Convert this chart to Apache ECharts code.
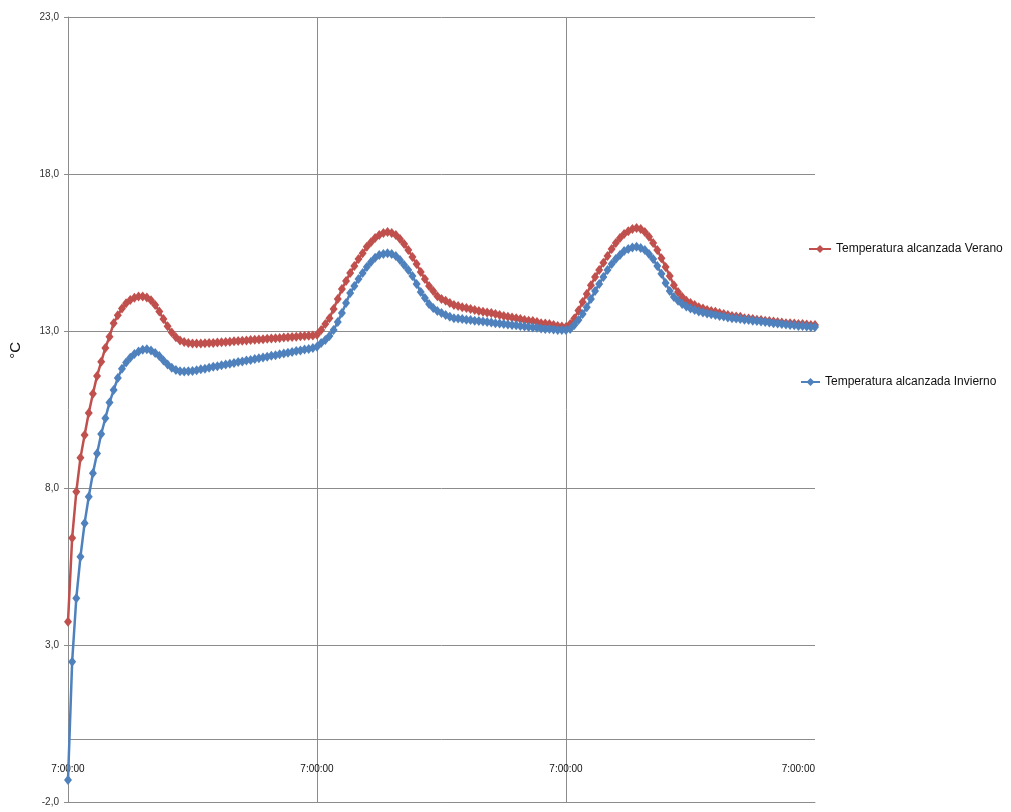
<!DOCTYPE html>
<html>
<head>
<meta charset="utf-8">
<script src="https://cdn.jsdelivr.net/npm/echarts@6/dist/echarts.min.js"></script>
<style>
html,body{margin:0;padding:0;background:#fff;}
#chart{width:1011px;height:812px;}
</style>
</head>
<body>
<div id="chart"></div>
<script>
// Series names
var serieVerano = 'Temperatura alcanzada Verano';
var serieInvierno = 'Temperatura alcanzada Invierno';

// Y axis ticks
var yMin = -2, yMax = 23, yStep = 5;

// Category (time) labels: 3 days, samples every 24 minutes, starting 7:00:00
var startMinutes = 7 * 60, stepMinutes = 24, nPoints = 181;

// Verano (red) values
var veranoDia1 = [3.74, 6.41, 7.88, 8.96, 9.69, 10.39, 11.0, 11.57, 12.02, 12.46,
  12.82, 13.25, 13.5, 13.72, 13.88, 13.99, 14.06, 14.1, 14.1, 14.07,
  13.98, 13.83, 13.62, 13.38, 13.15, 12.95, 12.8, 12.7, 12.65, 12.62,
  12.6, 12.6, 12.6, 12.61, 12.62, 12.62, 12.63, 12.64, 12.65, 12.66,
  12.67, 12.68, 12.69, 12.7, 12.71, 12.72, 12.73, 12.74, 12.75, 12.76,
  12.77, 12.78, 12.79, 12.8, 12.81, 12.82, 12.83, 12.84, 12.85, 12.86,
  12.88];
var veranoDia2 = [13.03, 13.22, 13.41, 13.7, 14.02, 14.34, 14.59, 14.85, 15.07, 15.29,
  15.48, 15.68, 15.83, 15.96, 16.06, 16.12, 16.15, 16.12, 16.06, 15.93,
  15.77, 15.58, 15.36, 15.13, 14.88, 14.66, 14.43, 14.27, 14.11, 14.02,
  13.96, 13.89, 13.83, 13.8, 13.76, 13.73, 13.7, 13.67, 13.64, 13.61,
  13.59, 13.57, 13.54, 13.51, 13.48, 13.45, 13.43, 13.41, 13.38, 13.35,
  13.33, 13.32, 13.29, 13.25, 13.24, 13.22, 13.19, 13.16, 13.14, 13.13];
var veranoDia3 = [13.22, 13.4, 13.65, 13.92, 14.18, 14.46, 14.72, 14.94, 15.17, 15.39,
  15.61, 15.8, 15.96, 16.09, 16.18, 16.25, 16.28, 16.25, 16.15, 16.0,
  15.8, 15.58, 15.32, 15.04, 14.75, 14.46, 14.24, 14.08, 13.96, 13.89,
  13.83, 13.76, 13.72, 13.67, 13.64, 13.61, 13.57, 13.54, 13.51, 13.48,
  13.46, 13.45, 13.41, 13.4, 13.38, 13.36, 13.35, 13.33, 13.32, 13.3,
  13.29, 13.27, 13.25, 13.25, 13.24, 13.22, 13.22, 13.21, 13.19, 13.19];

// Invierno (blue) values
var inviernoDia1 = [-1.3, 2.47, 4.49, 5.81, 6.88, 7.72, 8.47, 9.1, 9.72, 10.22,
  10.72, 11.12, 11.5, 11.8, 12.0, 12.15, 12.27, 12.35, 12.4, 12.42,
  12.38, 12.3, 12.2, 12.06, 11.93, 11.83, 11.76, 11.72, 11.71, 11.72,
  11.73, 11.75, 11.78, 11.8, 11.83, 11.86, 11.88, 11.91, 11.93, 11.96,
  11.98, 12.01, 12.03, 12.06, 12.08, 12.11, 12.13, 12.16, 12.18, 12.21,
  12.23, 12.26, 12.28, 12.31, 12.33, 12.36, 12.38, 12.41, 12.43, 12.46,
  12.5];
var inviernoDia2 = [12.62, 12.71, 12.84, 13.03, 13.29, 13.57, 13.89, 14.21, 14.43, 14.66,
  14.85, 15.04, 15.2, 15.33, 15.42, 15.45, 15.48, 15.45, 15.39, 15.26,
  15.1, 14.94, 14.75, 14.5, 14.24, 14.05, 13.86, 13.73, 13.64, 13.57,
  13.51, 13.45, 13.41, 13.4, 13.38, 13.36, 13.35, 13.33, 13.32, 13.3,
  13.29, 13.27, 13.25, 13.24, 13.22, 13.21, 13.19, 13.18, 13.16, 13.14,
  13.13, 13.11, 13.1, 13.08, 13.06, 13.06, 13.05, 13.03, 13.03, 13.03];
var inviernoDia3 = [13.06, 13.19, 13.35, 13.54, 13.76, 14.02, 14.27, 14.5, 14.72, 14.94,
  15.13, 15.29, 15.42, 15.55, 15.61, 15.66, 15.68, 15.64, 15.58, 15.45,
  15.29, 15.07, 14.82, 14.53, 14.27, 14.08, 13.96, 13.86, 13.78, 13.72,
  13.67, 13.62, 13.59, 13.56, 13.53, 13.51, 13.48, 13.46, 13.43, 13.41,
  13.4, 13.38, 13.36, 13.35, 13.33, 13.32, 13.3, 13.29, 13.27, 13.25,
  13.24, 13.22, 13.21, 13.19, 13.18, 13.16, 13.16, 13.14, 13.13, 13.13];

var verano = veranoDia1.concat(veranoDia2, veranoDia3);
var invierno = inviernoDia1.concat(inviernoDia2, inviernoDia3);

var categorias = [];
for (var i = 0; i < nPoints; i++) {
  var m = (startMinutes + i * stepMinutes) % (24 * 60);
  var h = Math.floor(m / 60), mm = m % 60;
  categorias.push(h + ':' + (mm < 10 ? '0' : '') + mm + ':00');
}

var FONT = '"Liberation Sans", Arial, sans-serif';
var RED = '#C0504D', BLUE = '#4F81BD', GRID = '#8c8c8c';

var chart = echarts.init(document.getElementById('chart'), null, {renderer: 'canvas'});
chart.setOption({
  animation: false,
  backgroundColor: '#ffffff',
  grid: {left: 68, top: 17, right: 196, bottom: 10, containLabel: false, outerBoundsMode: 'none'},
  legend: [
    {data: [serieVerano], orient: 'vertical', left: 803, top: 238,
     itemWidth: 22, itemHeight: 10, itemGap: 4,
     textStyle: {fontFamily: FONT, fontSize: 12, color: '#111'}},
    {data: [serieInvierno], orient: 'vertical', left: 795, top: 371,
     itemWidth: 19, itemHeight: 10, itemGap: 4,
     textStyle: {fontFamily: FONT, fontSize: 12, color: '#111'}}
  ],
  graphic: [{
    type: 'text', left: 8, top: 342, rotation: Math.PI / 2,
    style: {text: '°C', font: '15px ' + FONT, fill: '#111'}
  }],
  xAxis: {
    type: 'category',
    data: categorias,
    boundaryGap: false,
    axisLine: {onZero: false, lineStyle: {color: GRID, width: 1}},
    axisTick: {show: false},
    axisLabel: {
      interval: 59, margin: -38, fontFamily: FONT, fontSize: 10, color: '#111',
      showMaxLabel: true, alignMaxLabel: 'right'
    },
    splitLine: {
      show: true,
      interval: function (idx) { return idx % 60 === 0 && idx !== 0 && idx !== nPoints - 1; },
      lineStyle: {color: GRID, width: 1}
    }
  },
  yAxis: {
    type: 'value',
    min: yMin, max: yMax, interval: yStep,
    axisLine: {show: true, lineStyle: {color: GRID, width: 1}},
    axisTick: {show: true, length: 4, lineStyle: {color: GRID}},
    axisLabel: {
      margin: 9, fontFamily: FONT, fontSize: 10, color: '#333',
      formatter: function (v) { return v.toFixed(1).replace('.', ','); }
    },
    splitLine: {show: true, lineStyle: {color: GRID, width: 1}}
  },
  series: [
    {name: serieVerano, type: 'line', data: verano, symbol: 'diamond', symbolSize: [8, 10],
     showAllSymbol: true,
     lineStyle: {color: RED, width: 2.5}, itemStyle: {color: RED}, z: 3,
     markLine: {silent: true, symbol: 'none', label: {show: false},
       lineStyle: {color: GRID, width: 1, type: 'solid'},
       data: [{yAxis: 0}], z: 1}},
    {name: serieInvierno, type: 'line', data: invierno, symbol: 'diamond', symbolSize: [8, 10],
     showAllSymbol: true,
     lineStyle: {color: BLUE, width: 2.5}, itemStyle: {color: BLUE}, z: 4}
  ]
});
</script>
</body>
</html>
